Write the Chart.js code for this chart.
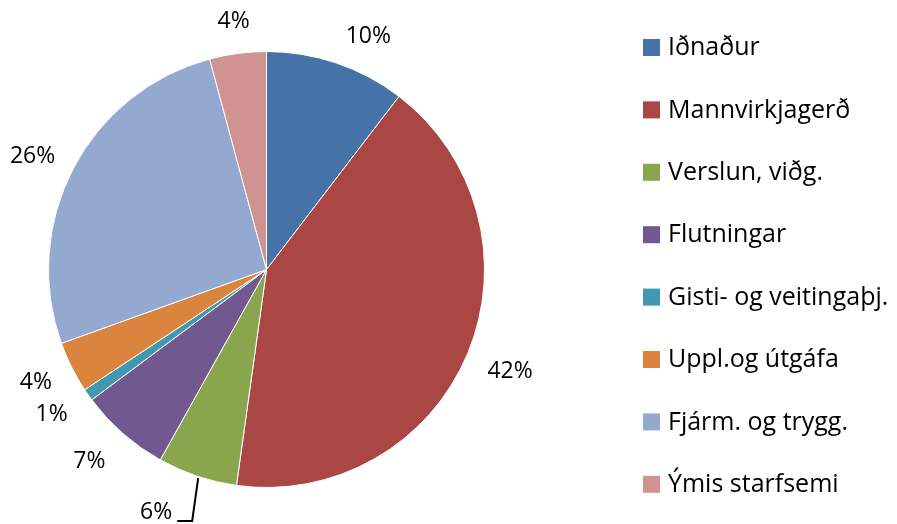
<!DOCTYPE html>
<html>
<head>
<meta charset="utf-8">
<script src="https://cdn.jsdelivr.net/npm/chart.js@4.4.1/dist/chart.umd.min.js"></script>
<style>
  html, body { margin: 0; padding: 0; background: #ffffff; }
  #wrap { width: 897px; height: 524px; position: relative; }
</style>
</head>
<body>
<div id="wrap"><canvas id="pieChart"></canvas></div>
<script>
// ===== DATA =====
const categories = [
  "Iðnaður",
  "Mannvirkjagerð",
  "Verslun, viðg.",
  "Flutningar",
  "Gisti- og veitingaþj.",
  "Uppl.og útgáfa",
  "Fjárm. og trygg.",
  "Ýmis starfsemi"
];
const shares = [10.4, 41.8, 5.9, 6.7, 0.9, 3.8, 26.3, 4.2];
const sliceColors = [
  "#4572A7", "#AA4643", "#89A54E", "#71588F",
  "#4198AF", "#DB843D", "#93A9CF", "#D19392"
];

const LABEL_FONT = "23px 'Open Sans', sans-serif";
const LEGEND_FONT = "25px 'Open Sans', sans-serif";

// label nudges (Excel moved some labels; the 6% one has a leader line)
const labelNudge = {
  0: { dx: 20, dy: 8 },
  2: { dx: -30, dy: 3, leader: true },
  3: { dx: -8, dy: -1 },
  4: { dx: -4, dy: -3 },
  5: { dx: 0, dy: -3 },
  6: { dx: 0, dy: 9 }
};

// ===== PERCENT LABELS =====
const pctLabels = {
  id: "pctLabels",
  afterDatasetsDraw(chart) {
    const ctx = chart.ctx;
    const meta = chart.getDatasetMeta(0);
    const total = shares.reduce((a, b) => a + b, 0);
    ctx.save();
    ctx.font = LABEL_FONT;
    ctx.fillStyle = "#000";
    ctx.textAlign = "center";
    ctx.textBaseline = "middle";
    meta.data.forEach((arc, i) => {
      const p = arc.getProps(["x", "y", "startAngle", "endAngle", "outerRadius"], true);
      const a = (p.startAngle + p.endAngle) / 2;
      const txt = Math.round(shares[i] / total * 100) + "%";
      const w = ctx.measureText(txt).width;
      const h = 16;
      const d = p.outerRadius + 22 + (w / 2) * Math.abs(Math.cos(a)) + (h / 2) * Math.abs(Math.sin(a));
      let x = p.x + d * Math.cos(a);
      let y = p.y + d * Math.sin(a);
      const n = labelNudge[i];
      if (n) {
        x += n.dx; y += n.dy;
        if (n.leader) {
          const ex = p.x + p.outerRadius * Math.cos(a);
          const ey = p.y + p.outerRadius * Math.sin(a);
          ctx.beginPath();
          ctx.strokeStyle = "#000";
          ctx.lineWidth = 2;
          ctx.moveTo(ex + 1, ey + 2);
          ctx.lineTo(ex - 5, 521);
          ctx.lineTo(x + w / 2 + 5, 521);
          ctx.stroke();
        }
      }
      ctx.fillText(txt, x, y);
    });
    ctx.restore();
  }
};

// ===== LEGEND =====
const sideLegend = {
  id: "sideLegend",
  afterDraw(chart) {
    const ctx = chart.ctx;
    ctx.save();
    ctx.font = LEGEND_FONT;
    ctx.textAlign = "left";
    ctx.textBaseline = "middle";
    categories.forEach((label, i) => {
      const cy = 47 + i * 62.4;
      ctx.fillStyle = sliceColors[i];
      ctx.fillRect(643, cy - 8, 17, 17);
      ctx.fillStyle = "#000";
      ctx.fillText(label, 668, cy + 1);
    });
    ctx.restore();
  }
};

new Chart(document.getElementById("pieChart"), {
  type: "pie",
  data: {
    labels: categories,
    datasets: [{
      data: shares,
      backgroundColor: sliceColors,
      borderColor: "#ffffff",
      borderWidth: 1
    }]
  },
  options: {
    responsive: true,
    maintainAspectRatio: false,
    animation: false,
    layout: { padding: { top: 51, bottom: 36, left: 48, right: 412 } },
    plugins: {
      legend: { display: false },
      tooltip: { enabled: false }
    }
  },
  plugins: [pctLabels, sideLegend]
});
</script>
</body>
</html>
